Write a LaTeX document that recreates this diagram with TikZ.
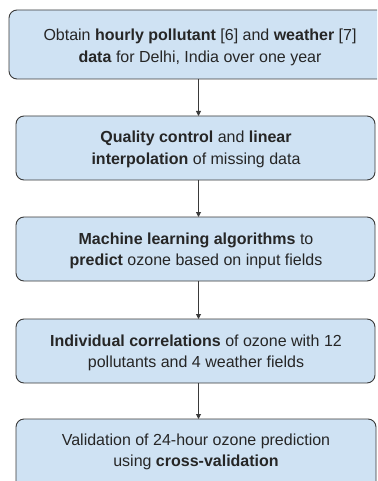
\documentclass[tikz,border=0pt]{standalone}
\usepackage{fontspec}
\setmainfont{Liberation Sans}
\usetikzlibrary{arrows.meta}
\definecolor{boxfill}{HTML}{CFE2F3}
\definecolor{boxline}{HTML}{3A3A3A}
\tikzset{
  flowbox/.style={draw=boxline, fill=boxfill, line width=0.9pt, rounded corners=8pt},
  flowtext/.style={align=center, font=\fontsize{16}{21.5}\selectfont, text=black!85, inner sep=0pt},
  flowarrow/.style={draw=boxline, line width=0.9pt, -{Triangle[length=5pt,width=5pt]}}
}
\begin{document}
\begin{tikzpicture}[x=1pt,y=-1pt]
\useasboundingbox (0,0) rectangle (377,481);
\clip (0,0) rectangle (377,481);
\draw[flowbox] (9,10) rectangle (390,79);
\draw[flowbox] (16,116) rectangle (375,180);
\draw[flowbox] (16,217) rectangle (375,281);
\draw[flowbox] (16,319) rectangle (375,383);
\draw[flowbox] (16,419) rectangle (376,495);
\node[flowtext] (t1) at (200,47.5) {Obtain \textbf{hourly pollutant} [6] and \textbf{weather} [7]\\\textbf{data} for Delhi, India over one year};
\node[flowtext] (t2) at (196,149.5) {\textbf{Quality control} and \textbf{linear}\\\textbf{interpolation} of missing data};
\node[flowtext] (t3) at (196,251) {\textbf{Machine learning algorithms} to\\\textbf{predict} ozone based on input fields};
\node[flowtext] (t4) at (196,353) {\textbf{Individual correlations} of ozone with 12\\pollutants and 4 weather fields};
\node[flowtext] (t5) at (196,452) {Validation of 24-hour ozone prediction\\using \textbf{cross-validation}};
\coordinate (b1) at (198.5,79);
\coordinate (a2) at (198.5,116);
\coordinate (b2) at (198.5,180);
\coordinate (a3) at (198.5,217);
\coordinate (b3) at (198.5,281);
\coordinate (a4) at (198.5,319);
\coordinate (b4) at (198.5,383);
\coordinate (a5) at (198.5,419);
\draw[flowarrow] (b1) -- (a2);
\draw[flowarrow] (b2) -- (a3);
\draw[flowarrow] (b3) -- (a4);
\draw[flowarrow] (b4) -- (a5);
\end{tikzpicture}
\end{document}
